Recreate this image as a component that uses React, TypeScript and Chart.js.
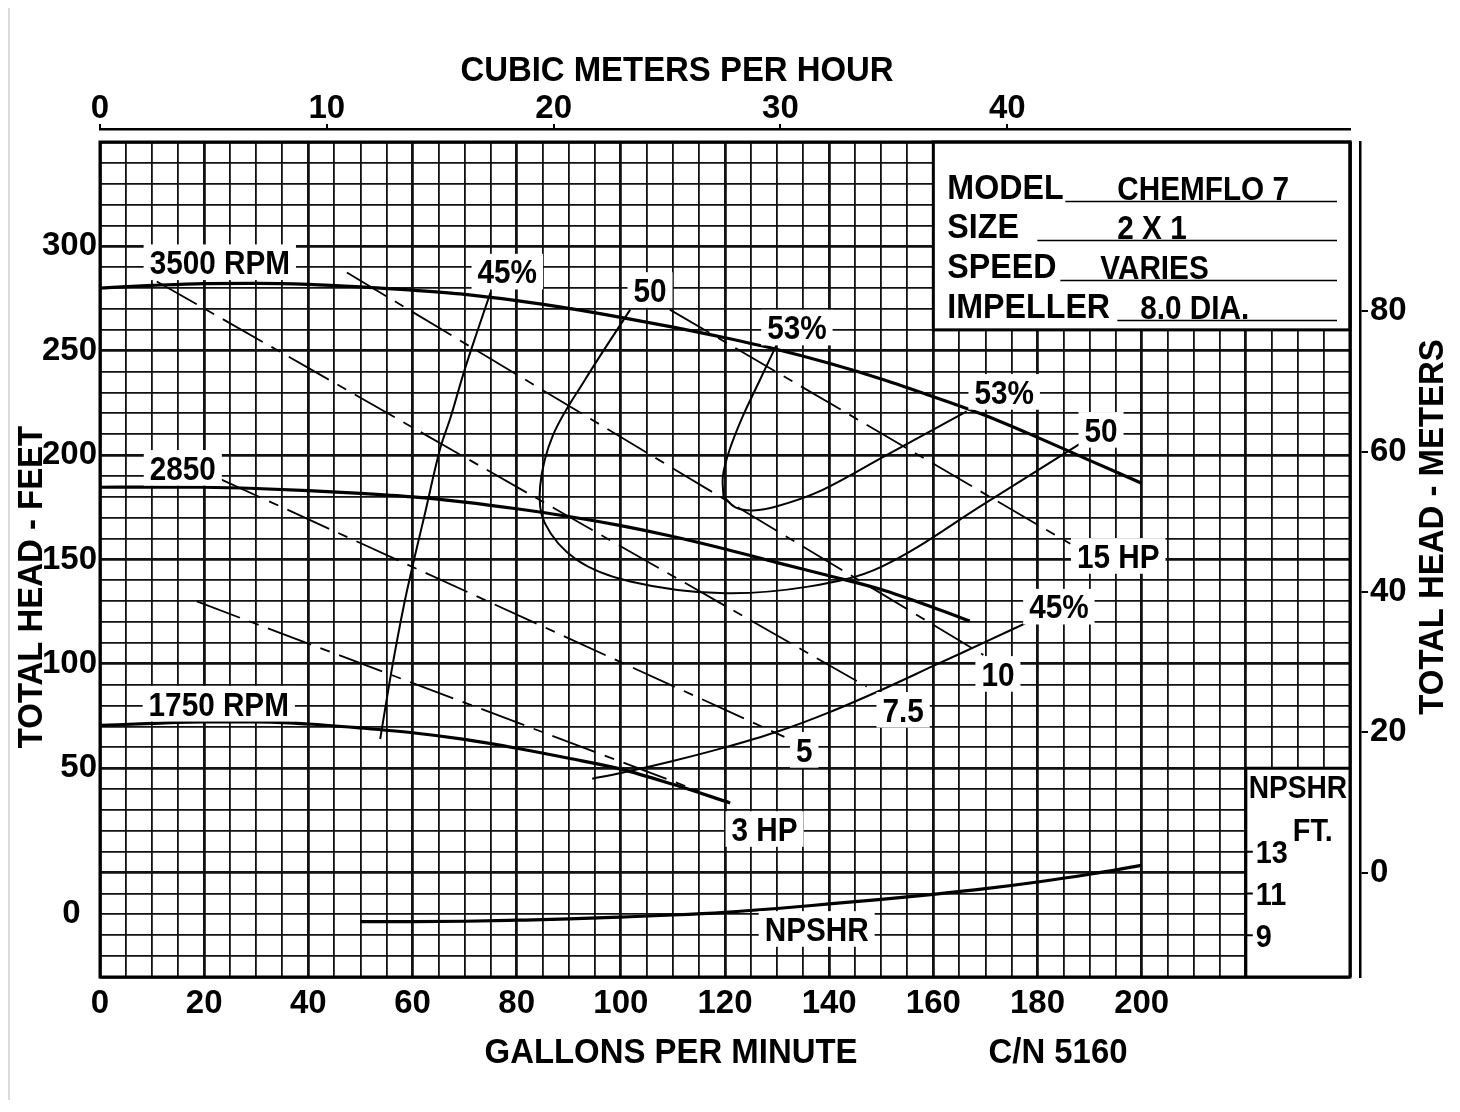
import React, { useEffect, useRef } from 'react';
import { Chart, registerables } from 'chart.js';

Chart.register(...registerables);

const FONT = '"Liberation Sans", Arial, Helvetica, sans-serif';

// ---------- axes ----------
const GPM_MIN = 0;
const GPM_MAX = 240;
const HEAD_MIN = -50;
const HEAD_MAX = 350;
const GPM_LABELS = [0, 20, 40, 60, 80, 100, 120, 140, 160, 180, 200];
const HEAD_LABELS = [50, 100, 150, 200, 250, 300];
const HEAD_ZERO_LABEL_AT = -20;
const M3H_TICKS = [0, 10, 20, 30, 40];
const GPM_PER_M3H = 4.355;
const METER_TICKS = [0, 20, 40, 60, 80];
const METER_MIN = -14.86;
const METER_MAX = 104.09;
const NPSHR_TICKS = [13, 11, 9];
const NPSHR_MIN = 7;
const NPSHR_MAX = 47;

// ---------- head-capacity curves [gpm, ft] ----------
const HEAD_3500 = [
  [0, 280], [10, 281.3], [20, 282.2], [30, 282.3], [40, 281.8], [50, 280.6], [60, 279],
  [70, 277], [80, 274], [90, 270.3], [100, 266], [110, 261.3], [120, 256.2], [130, 250.6],
  [140, 244], [150, 236.5], [160, 228], [170, 219], [180, 208.5], [190, 197.5], [200, 186.5],
];
const HEAD_2850 = [
  [0, 184.6], [10, 184.7], [20, 184.6], [30, 184], [40, 183], [50, 181.7], [60, 180],
  [70, 177.5], [80, 174.3], [90, 170.6], [100, 166.2], [110, 161], [120, 155], [130, 148.5],
  [140, 142.2], [150, 135.6], [160, 127], [167, 120.5],
];
const HEAD_1750 = [
  [0, 70.5], [10, 71.5], [20, 72.2], [30, 72.2], [40, 71.2], [50, 69.3], [60, 67],
  [70, 63.8], [80, 59.6], [90, 54.8], [100, 49.6], [110, 42.3], [121, 33.4],
];

// ---------- NPSHR [gpm, ft NPSHR] ----------
const NPSHR = [
  [50, 9.65], [60, 9.65], [70, 9.67], [80, 9.72], [90, 9.78], [100, 9.87], [110, 9.97],
  [120, 10.1], [130, 10.28], [140, 10.5], [150, 10.72], [160, 10.96], [170, 11.23],
  [180, 11.55], [190, 11.92], [200, 12.35],
];

// ---------- efficiency curves [gpm, ft] ----------
const EFF_45_LEFT = [
  [75, 278], [72.4, 259], [69.9, 240], [67.3, 218], [65.3, 203], [62.2, 170],
  [60.3, 150], [58.3, 127.5], [56, 97], [53.8, 64],
];
const EFF_45_RIGHT = [
  [94.5, 45], [100, 47.7], [110, 53.5], [120, 60], [130, 67.5], [140, 76.8],
  [150, 87.5], [160, 99], [170, 110.5], [179, 121],
];
const EFF_50 = [
  [101.8, 269.7], [93.1, 236], [87, 209.7], [84.5, 185], [85.4, 167.4], [91.5, 149.9],
  [101.8, 139.5], [119, 133.9], [136, 137], [150, 146.5], [170, 177], [188.2, 205.5],
];
const EFF_53_UPPER = [
  [129.9, 252.8], [126.7, 236], [123.3, 218], [120.8, 202], [119.6, 190], [119.7, 180.2],
];
const EFF_53_LOWER = [
  [119.7, 180.2], [122, 175], [125.4, 173.5], [130, 175.5], [138, 182.5], [150.4, 199.2],
  [166.4, 221],
];

// ---------- horsepower lines [gpm, ft] ----------
const HP_15 = [[109.4, 269.7], [186.3, 157.5]];
const HP_10 = [[47.4, 287.5], [169.6, 104.3]];
const HP_7_5 = [[10.9, 283.2], [147.2, 89.1]];
const HP_5 = [[22.7, 189], [131.4, 65]];
const HP_3 = [[18.6, 129.9], [115, 39]];

// ---------- curve labels (anchored in data units: gpm, ft) ----------
const CURVE_LABELS = [
  { text: '3500 RPM', gpm: 23.0, head: 292.4 },
  { text: '2850', gpm: 15.9, head: 193.9 },
  { text: '1750 RPM', gpm: 22.8, head: 80.9 },
  { text: '45%', gpm: 78.2, head: 287.9 },
  { text: '50', gpm: 105.6, head: 279.1 },
  { text: '53%', gpm: 133.8, head: 261.1 },
  { text: '53%', gpm: 173.6, head: 230.3 },
  { text: '50', gpm: 192.2, head: 212.1 },
  { text: '15 HP', gpm: 195.5, head: 151.7 },
  { text: '45%', gpm: 184.1, head: 127.4 },
  { text: '10', gpm: 172.4, head: 95.2 },
  { text: '7.5', gpm: 154.2, head: 78.0 },
  { text: '5', gpm: 135.2, head: 58.8 },
  { text: '3 HP', gpm: 127.6, head: 20.9 },
  { text: 'NPSHR', gpm: 137.6, head: -27 },
];

// ---------- info block ----------
const INFO_KEYS = ['MODEL', 'SIZE', 'SPEED', 'IMPELLER'];
const INFO_VALUES = ['CHEMFLO 7', '2 X 1', 'VARIES', '8.0 DIA.'];
const INFO_BOX = { gpmFrom: 160, gpmTo: 240, headFrom: 260, headTo: 350 };
const NPSHR_BOX = { gpmFrom: 220, gpmTo: 240, headFrom: -50, headTo: 50 };

const range = (a: number, b: number, s: number) => {
  const out: number[] = [];
  for (let v = a; v <= b + 1e-9; v += s) out.push(Math.round(v * 1000) / 1000);
  return out;
};

// text with optional horizontal condensing (the original lettering is a narrow face)
function drawText(
  ctx: CanvasRenderingContext2D, s: string, x: number, y: number, size: number,
  align: CanvasTextAlign = 'left', sx = 1,
) {
  ctx.save();
  ctx.font = `bold ${size}px ${FONT}`;
  ctx.textAlign = align;
  ctx.textBaseline = 'alphabetic';
  ctx.fillStyle = '#000';
  ctx.translate(x, y);
  ctx.scale(sx, 1);
  ctx.fillText(s, 0, 0);
  ctx.restore();
}

const LABEL_SIZE = 33;
const LABEL_SX = 0.9;

const overlayPlugin = {
  id: 'overlay',
  beforeDatasetsDraw(chart: any) {
    const { ctx, scales } = chart;
    const x = scales.x, y = scales.y;
    ctx.save();
    ctx.fillStyle = '#fff';
    for (const b of [INFO_BOX, NPSHR_BOX]) {
      const x0 = x.getPixelForValue(b.gpmFrom), x1 = x.getPixelForValue(b.gpmTo);
      const y0 = y.getPixelForValue(b.headTo), y1 = y.getPixelForValue(b.headFrom);
      ctx.fillRect(x0, y0, x1 - x0, y1 - y0);
    }
    ctx.restore();
  },
  afterDatasetsDraw(chart: any) {
    const { ctx, scales, chartArea: ca } = chart;
    const x = scales.x, y = scales.y, ynp = scales.ynp;
    ctx.save();

    // curve labels on white patches
    const cap = LABEL_SIZE * 0.716;
    for (const l of CURVE_LABELS) {
      const cx = x.getPixelForValue(l.gpm), cy = y.getPixelForValue(l.head);
      ctx.font = `bold ${LABEL_SIZE}px ${FONT}`;
      const w = ctx.measureText(l.text).width * LABEL_SX;
      ctx.fillStyle = '#fff';
      ctx.fillRect(cx - w / 2 - 6, cy - cap / 2 - 6, w + 12, cap + 12);
      drawText(ctx, l.text, cx, cy + cap / 2, LABEL_SIZE, 'center', LABEL_SX);
    }

    // info box
    const bx0 = x.getPixelForValue(INFO_BOX.gpmFrom), bx1 = x.getPixelForValue(INFO_BOX.gpmTo);
    const by0 = y.getPixelForValue(INFO_BOX.headTo), by1 = y.getPixelForValue(INFO_BOX.headFrom);
    ctx.strokeStyle = '#000';
    ctx.lineWidth = 3;
    ctx.strokeRect(bx0, by0, bx1 - bx0, by1 - by0);
    const rowBase = [57, 96, 136, 176];
    const lineStart = [132, 104, 127, 184];
    const valueX = [184, 184, 167, 207];
    for (let i = 0; i < INFO_KEYS.length; i++) {
      drawText(ctx, INFO_KEYS[i], bx0 + 14, by0 + rowBase[i], 35, 'left', 0.92);
      drawText(ctx, INFO_VALUES[i], bx0 + valueX[i], by0 + rowBase[i] + 1, 33, 'left', 0.9);
      ctx.lineWidth = 1.5;
      ctx.beginPath();
      ctx.moveTo(bx0 + lineStart[i], by0 + rowBase[i] + 2.5);
      ctx.lineTo(bx1 - 13, by0 + rowBase[i] + 2.5);
      ctx.stroke();
    }

    // NPSHR box
    const nx0 = x.getPixelForValue(NPSHR_BOX.gpmFrom), nx1 = x.getPixelForValue(NPSHR_BOX.gpmTo);
    const ny0 = y.getPixelForValue(NPSHR_BOX.headTo), ny1 = y.getPixelForValue(NPSHR_BOX.headFrom);
    ctx.lineWidth = 3;
    ctx.beginPath();
    ctx.moveTo(nx0, ny1);
    ctx.lineTo(nx0, ny0);
    ctx.lineTo(nx1, ny0);
    ctx.stroke();
    drawText(ctx, 'NPSHR', (nx0 + nx1) / 2, ny0 + 30, 32, 'center', 0.88);
    drawText(ctx, 'FT.', nx0 + 67, ny0 + 73, 32, 'center', 0.9);
    ctx.lineWidth = 2;
    for (const n of NPSHR_TICKS) {
      const yy = ynp.getPixelForValue(n);
      ctx.beginPath();
      ctx.moveTo(nx0, yy);
      ctx.lineTo(nx0 + 7, yy);
      ctx.stroke();
      drawText(ctx, String(n), nx0 + 10, yy + 11.5, 32, 'left', 0.9);
    }

    // chart frame
    ctx.lineWidth = 3;
    ctx.strokeRect(ca.left, ca.top, ca.right - ca.left, ca.bottom - ca.top);
    ctx.restore();
  },
  afterDraw(chart: any) {
    const { ctx, chartArea: ca, width } = chart;
    ctx.save();
    drawText(ctx, 'CUBIC METERS PER HOUR', ca.left + 577, ca.top - 61, 35, 'center', 0.94);
    drawText(ctx, 'GALLONS PER MINUTE', ca.left + 571, ca.bottom + 86, 35, 'center', 0.94);
    drawText(ctx, 'C/N 5160', ca.left + 958, ca.bottom + 86, 35, 'center', 0.94);
    ctx.save();
    ctx.translate(ca.left - 58, ca.top + 445);
    ctx.rotate(-Math.PI / 2);
    drawText(ctx, 'TOTAL HEAD - FEET', 0, 0, 35, 'center', 0.94);
    ctx.restore();
    ctx.save();
    ctx.translate(width - 1, ca.top + 385);
    ctx.rotate(-Math.PI / 2);
    drawText(ctx, 'TOTAL HEAD - METERS', 0, 0, 35, 'center', 0.94);
    ctx.restore();
    ctx.restore();
  },
};

export default function App() {
  const ref = useRef<HTMLCanvasElement>(null);

  useEffect(() => {
    const canvas = ref.current;
    if (!canvas) return;
    const toXY = (pts: number[][]) => pts.map(([a, b]) => ({ x: a, y: b }));
    const mk = (pts: number[][], extra: any) => ({
      data: toXY(pts),
      showLine: true,
      pointRadius: 0,
      borderColor: '#000',
      backgroundColor: '#000',
      fill: false,
      ...extra,
    });
    const headStyle = { borderWidth: 3.2, cubicInterpolationMode: 'monotone' };
    const effStyle = { borderWidth: 2, tension: 0.35 };
    const hpStyle = { borderWidth: 1.8, borderDash: [46, 10, 10, 10], tension: 0 };

    const tickFont = { family: FONT, size: 33, weight: 'bold' as const };

    const chart = new Chart(canvas, {
      type: 'scatter',
      data: {
        datasets: [
          mk(HEAD_3500, headStyle),
          mk(HEAD_2850, headStyle),
          mk(HEAD_1750, headStyle),
          mk(EFF_45_LEFT, effStyle),
          mk(EFF_45_RIGHT, effStyle),
          mk(EFF_50, effStyle),
          mk(EFF_53_UPPER, effStyle),
          mk(EFF_53_LOWER, effStyle),
          mk(HP_15, hpStyle),
          mk(HP_10, hpStyle),
          mk(HP_7_5, hpStyle),
          mk(HP_5, hpStyle),
          mk(HP_3, hpStyle),
          mk(NPSHR, { ...headStyle, yAxisID: 'ynp' }),
        ] as any,
      },
      options: {
        responsive: false,
        animation: false,
        events: [],
        layout: { padding: 0 },
        plugins: { legend: { display: false }, tooltip: { enabled: false }, title: { display: false } },
        scales: {
          x: {
            type: 'linear',
            position: 'bottom',
            min: GPM_MIN,
            max: GPM_MAX,
            afterBuildTicks: (s: any) => { s.ticks = range(GPM_MIN, GPM_MAX, 5).map((v) => ({ value: v })); },
            ticks: {
              autoSkip: false, maxRotation: 0, minRotation: 0, padding: 7, color: '#000', font: tickFont,
              callback: (v: any) => (GPM_LABELS.includes(Number(v)) ? String(v) : ''),
            },
            grid: {
              drawTicks: false,
              color: '#111',
              lineWidth: (c: any) => (c.tick && c.tick.value % 20 === 0 ? 2.8 : 1.8),
            },
            border: { display: false },
            afterFit: (s: any) => { s.height = 123; },
          },
          gapT: {
            type: 'linear', position: 'top', weight: 0, min: 0, max: 1,
            ticks: { display: false }, grid: { display: false }, border: { display: false },
            afterFit: (s: any) => { s.height = 13; },
          },
          x2: {
            type: 'linear', position: 'top', weight: 1, min: 0, max: GPM_MAX / GPM_PER_M3H,
            afterBuildTicks: (s: any) => { s.ticks = M3H_TICKS.map((v) => ({ value: v })); },
            ticks: { autoSkip: false, maxRotation: 0, padding: -5, color: '#000', font: tickFont },
            grid: { drawOnChartArea: false, drawTicks: true, tickLength: 5, color: '#000', lineWidth: 2 },
            border: { display: true, color: '#000', width: 2.5 },
            afterFit: (s: any) => { s.height = 125; },
          },
          y: {
            type: 'linear', position: 'left', min: HEAD_MIN, max: HEAD_MAX,
            afterBuildTicks: (s: any) => { s.ticks = range(HEAD_MIN, HEAD_MAX, 10).map((v) => ({ value: v })); },
            ticks: {
              autoSkip: false, padding: 3, color: '#000', font: tickFont,
              callback: (v: any) => {
                const n = Number(v);
                if (n === HEAD_ZERO_LABEL_AT) return '0\u2002';
                return HEAD_LABELS.includes(n) ? String(n) : '';
              },
            },
            grid: {
              drawTicks: false,
              color: '#111',
              lineWidth: (c: any) => (c.tick && c.tick.value % 50 === 0 ? 2.8 : 1.8),
            },
            border: { display: false },
            afterFit: (s: any) => { s.width = 90; },
          },
          gapR: {
            type: 'linear', position: 'right', weight: 0, min: 0, max: 1,
            ticks: { display: false }, grid: { display: false }, border: { display: false },
            afterFit: (s: any) => { s.width = 10; },
          },
          y2: {
            type: 'linear', position: 'right', weight: 1, min: METER_MIN, max: METER_MAX,
            afterBuildTicks: (s: any) => { s.ticks = METER_TICKS.map((v) => ({ value: v })); },
            ticks: { autoSkip: false, padding: 2, color: '#000', font: tickFont },
            grid: { drawOnChartArea: false, drawTicks: true, tickLength: 8, color: '#000', lineWidth: 2 },
            border: { display: true, color: '#000', width: 2.5 },
            afterFit: (s: any) => { s.width = 84; },
          },
          ynp: {
            type: 'linear', position: 'right', display: false, min: NPSHR_MIN, max: NPSHR_MAX,
          },
        } as any,
      },
      plugins: [overlayPlugin as any],
    });

    return () => chart.destroy();
  }, []);

  return (
    <div
      style={{
        marginTop: -6,
        width: 1434,
        height: 1096,
        borderTop: '2px solid #dcdcdc',
        borderLeft: '2px solid #dcdcdc',
        background: '#fff',
      }}
    >
      <canvas ref={ref} width={1434} height={1096} style={{ display: 'block', width: 1434, height: 1096 }} />
    </div>
  );
}
